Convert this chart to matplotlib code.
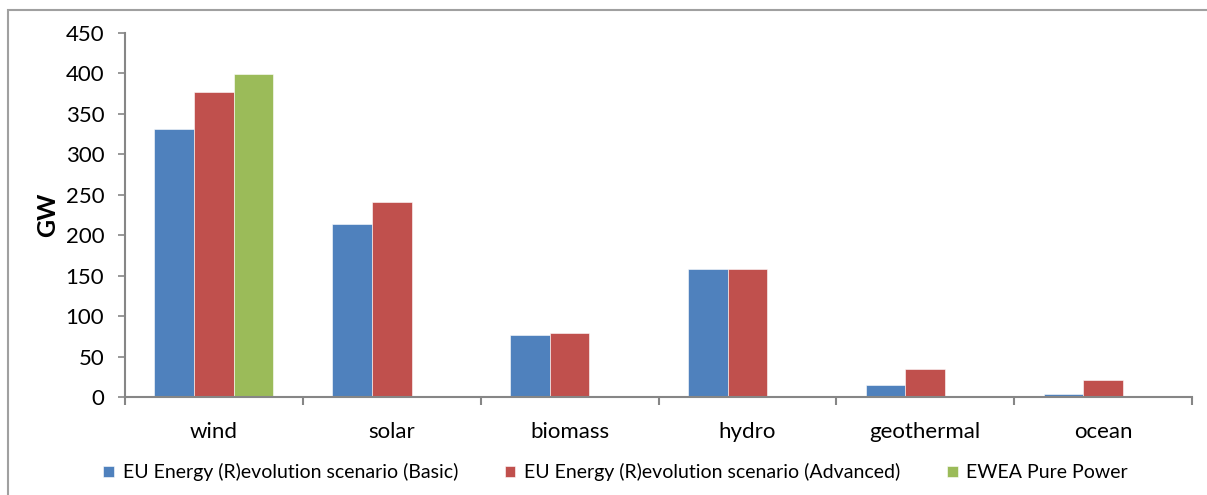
import numpy as np
import matplotlib.pyplot as plt
from matplotlib.patches import Rectangle

plt.rcParams['font.family'] = ['Lato', 'DejaVu Sans']

# Capacidad instalada por tecnologia (GW)
categorias = ['wind', 'solar', 'biomass', 'hydro', 'geothermal', 'ocean']
basic = [331, 214, 77, 158, 15, 4]
advanced = [377, 241, 79, 158, 35, 21]
ewea = [399, np.nan, np.nan, np.nan, np.nan, np.nan]

series = ['EU Energy (R)evolution scenario (Basic)',
          'EU Energy (R)evolution scenario (Advanced)',
          'EWEA Pure Power']
colores = ['#4F81BD', '#C0504D', '#9BBB59']
eje = '#868686'

fig = plt.figure(figsize=(12.07, 4.95), dpi=100)
ax = fig.add_axes([0.1036, 0.198, 0.884, 0.7353])

x = np.arange(len(categorias))
ancho = 0.223
for i, (vals, nombre, c) in enumerate(zip([basic, advanced, ewea], series, colores)):
    ax.bar(x + (i - 1) * ancho, vals, ancho, color=c, label=nombre,
           edgecolor='white', linewidth=0.4)

ax.set_xlim(-0.5, len(categorias) - 0.5)
ax.set_ylim(0, 450)
ax.set_yticks(np.arange(0, 451, 50))
ax.set_xticks(x)
ax.set_xticklabels(categorias, fontsize=16)
ax.set_xticks(np.arange(-0.5, len(categorias), 1), minor=True)
ax.tick_params(axis='x', which='major', length=0, pad=18)
ax.tick_params(axis='x', which='minor', length=6, color=eje, width=1.5)
ax.tick_params(axis='y', length=5, color=eje, width=1.2, labelsize=16, pad=10)
ax.set_ylabel('GW', fontsize=18, fontweight='bold', labelpad=5)

for lado in ['top', 'right']:
    ax.spines[lado].set_visible(False)
for lado in ['left', 'bottom']:
    ax.spines[lado].set_color(eje)
    ax.spines[lado].set_linewidth(1.5)

fig.legend(loc='center', bbox_to_anchor=(0.51, 0.046), ncol=3, frameon=False,
           fontsize=14, handlelength=0.55, handleheight=0.55, handletextpad=0.45,
           columnspacing=2.4)

# Marco exterior del grafico
fig.patches.append(Rectangle((8 / 1207, -0.2), 1.2, 1.2 - 9.5 / 495,
                             transform=fig.transFigure, fill=False,
                             edgecolor='#A0A0A0', linewidth=1.5))

fig.savefig('out.png', dpi=100)
